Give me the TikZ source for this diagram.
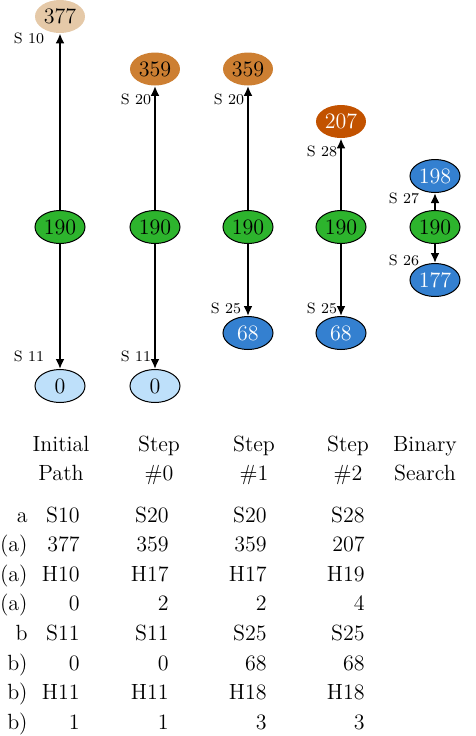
\documentclass[tikz,border=0pt]{standalone}
\usetikzlibrary{shapes.geometric,arrows.meta}
\definecolor{sandc}{RGB}{229,201,168}
\definecolor{bronzec}{RGB}{205,127,50}
\definecolor{rustc}{RGB}{194,82,0}
\definecolor{leafc}{RGB}{45,180,45}
\definecolor{seac}{RGB}{52,128,208}
\definecolor{skyc}{RGB}{190,224,250}
\begin{document}
\begin{tikzpicture}[x=0.5pt,y=-0.5pt]
  \useasboundingbox (0,0) rectangle (476,736);
  \tikzstyle{every node} = [font=\fontsize{11}{13}\selectfont]
  \tikzstyle{val} = [ellipse, minimum width=25pt, minimum height=16.5pt, inner sep=0pt]
  \tikzstyle{ring} = [val, draw=black, line width=0.5pt]
  \tikzstyle{lbl} = [font=\fontsize{7.5}{9}\selectfont, inner sep=0pt]
  % initial path
  \node[val, fill=sandc] (top1) at (60,16.5) {377};
  \node[ring, fill=leafc] (mid1) at (60,227) {190};
  \node[ring, fill=skyc] (bot1) at (60,386) {0};
  % step #0
  \node[val, fill=bronzec] (top2) at (155,69) {359};
  \node[ring, fill=leafc] (mid2) at (155,227) {190};
  \node[ring, fill=skyc] (bot2) at (155,386) {0};
  % step #1
  \node[val, fill=bronzec] (top3) at (248,69) {359};
  \node[ring, fill=leafc] (mid3) at (248,227) {190};
  \node[ring, fill=seac, text=white] (bot3) at (248,333) {68};
  % step #2
  \node[val, fill=rustc, text=white] (top4) at (341,121.5) {207};
  \node[ring, fill=leafc] (mid4) at (341,227) {190};
  \node[ring, fill=seac, text=white] (bot4) at (341,333) {68};
  % binary search
  \node[ring, fill=seac, text=white] (top5) at (435,176) {198};
  \node[ring, fill=leafc] (mid5) at (435,227) {190};
  \node[ring, fill=seac, text=white] (bot5) at (435,280) {177};
  \path[>={Latex[length=5pt,width=4.5pt]}, ->, line width=1pt]
  (mid1) edge (top1)
  edge (bot1)
  (mid2) edge (top2)
  edge (bot2)
  (mid3) edge (top3)
  edge (bot3)
  (mid4) edge (top4)
  edge (bot4)
  (mid5) edge (top5)
  edge (bot5);
  \node[lbl] (s10) at (29,38) {S 10};
  \node[lbl] (s11a) at (29,356) {S 11};
  \node[lbl] (s20a) at (136,99) {S 20};
  \node[lbl] (s11b) at (136,356) {S 11};
  \node[lbl] (s20b) at (229,99) {S 20};
  \node[lbl] (s25a) at (226,308) {S 25};
  \node[lbl] (s28) at (322,151) {S 28};
  \node[lbl] (s25b) at (322,308) {S 25};
  \node[lbl] (s27) at (404,198) {S 27};
  \node[lbl] (s26) at (404,260) {S 26};
  % table
  \foreach \x/\one/\two [count=\k] in {61/Initial/Path, 159/Step/\#0, 254/Step/\#1,
    348/Step/\#2, 425/Binary/Search}{
    \node[anchor=base, inner sep=0pt] (h\k a) at (\x,451) {\one};
    \node[anchor=base, inner sep=0pt] (h\k b) at (\x,480) {\two};
  }
  \foreach \lab/\cA/\cB/\cC/\cD [count=\i] in {a/S10/S20/S20/S28, {(a)}/377/359/359/207,
    {(a)}/H10/H17/H17/H19, {(a)}/0/2/2/4, b/S11/S11/S25/S25, {b)}/0/0/68/68,
    {b)}/H11/H11/H18/H18, {b)}/1/1/3/3}{
    \pgfmathsetmacro{\yy}{522+29.6*(\i-1)}
    \node[anchor=base east, inner sep=0pt] (r\i-0) at (28,\yy) {\lab};
    \node[anchor=base east, inner sep=0pt] (r\i-1) at (80,\yy) {\cA};
    \node[anchor=base east, inner sep=0pt] (r\i-2) at (169,\yy) {\cB};
    \node[anchor=base east, inner sep=0pt] (r\i-3) at (267,\yy) {\cC};
    \node[anchor=base east, inner sep=0pt] (r\i-4) at (365,\yy) {\cD};
  }
\end{tikzpicture}
\end{document}
